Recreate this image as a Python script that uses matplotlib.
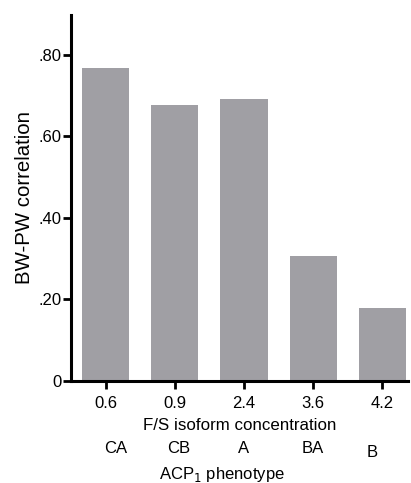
import matplotlib
matplotlib.use("Agg")
import matplotlib.pyplot as plt

plt.rcParams['font.family'] = ['Liberation Sans', 'DejaVu Sans']

concentrations = ["0.6", "0.9", "2.4", "3.6", "4.2"]
phenotypes = ["CA", "CB", "A", "BA", "B"]
correlation = [0.769, 0.676, 0.692, 0.307, 0.179]
yticks = [0, 0.2, 0.4, 0.6, 0.8]
ytick_labels = ["0", ".20", ".40", ".60", ".80"]

fig = plt.figure(figsize=(4.11, 4.83), dpi=100)
ax = fig.add_axes([0.1727, 0.2112, 0.82, 0.7578])

pos = list(range(len(correlation)))
ax.bar(pos, correlation, width=0.68, color='#a09fa4')

ax.set_xlim(-0.5, 4.37)
ax.set_ylim(0, 0.898)
ax.set_xticks(pos)
ax.set_xticklabels(concentrations)
ax.set_yticks(yticks)
ax.set_yticklabels(ytick_labels)

for s in ['top', 'right']:
    ax.spines[s].set_visible(False)
for s in ['left', 'bottom']:
    ax.spines[s].set_linewidth(2.2)
ax.tick_params(width=2, length=5.5, labelsize=12, pad=1.5)
ax.tick_params(axis='x', pad=5.5)

ax.set_xlabel("F/S isoform concentration", fontsize=12.2, labelpad=4.5)
ax.set_ylabel("BW-PW correlation", fontsize=14.7, labelpad=3)

# phenotype row below the axis, slightly off-centre as in the original
shifts = [0.14, 0.05, 0.0, 0.0, -0.15]
drops = [0, 0, 0, 0, 0.011]
for p, lab, sh, dr in zip(pos, phenotypes, shifts, drops):
    ax.text(p + sh, -0.197 - dr, lab, ha='center', va='baseline', fontsize=12,
            transform=ax.get_xaxis_transform())
ax.text(0.447, -0.268, "ACP$_1$ phenotype", ha='center', va='baseline', fontsize=12,
        transform=ax.transAxes)

fig.savefig("out.png", dpi=100)
